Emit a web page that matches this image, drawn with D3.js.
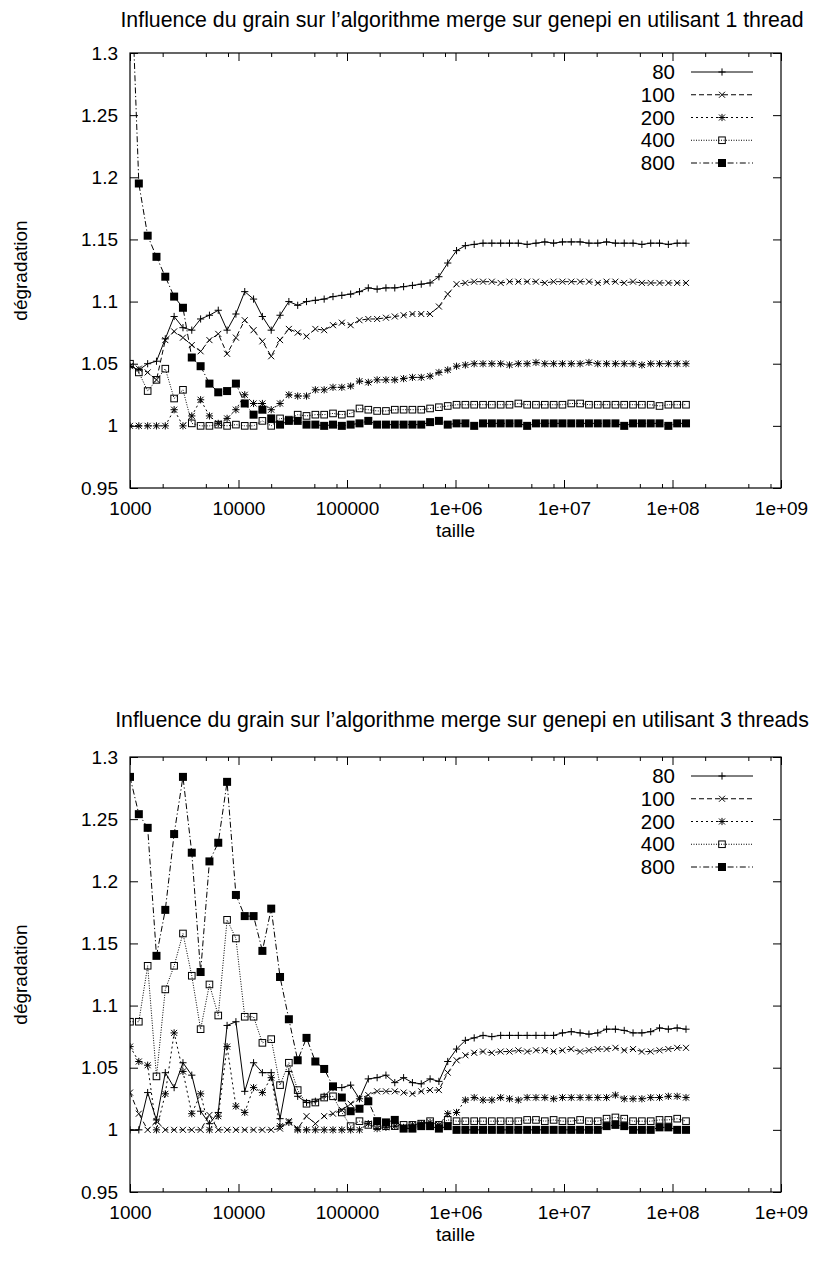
<!DOCTYPE html>
<html><head><meta charset="utf-8">
<script src="https://cdn.jsdelivr.net/npm/d3@7"></script>
<style>
body{margin:0;background:#fff;}
text{font-family:"Liberation Sans",Arial,Helvetica,sans-serif;fill:#000;}
</style>
</head><body>
<svg id="chart" width="829" height="1262"></svg>
<script>
// ---------------- data ----------------
const taille = [1000,1206,1455,1754,2115,2551,3077,3710,4475,5397,
 6508,7849,9466,11415,13767,16603,20023,24147,29121,35120,
 42355,51080,61602,74292,89596,108050,130310,157150,189520,228560,
 275640,332420,400900,483480,583070,703180,848020,1022300,1232900,1486900,
 1793200,2162500,2608000,3145200,3793100,4574400,5516700,6653100,8023600,9676400,
 11669000,14073000,16972000,20468000,24684000,29768000,35900000,43295000,52213000,62968000,
 75939000,91582000,110450000,133200000];

const grains = ["80","100","200","400","800"];

// 1 thread
const deg1_g80 = [1.048,1.045,1.050,1.052,1.070,1.088,1.079,1.077,1.086,1.089,
 1.093,1.077,1.090,1.108,1.102,1.088,1.077,1.089,1.100,1.097,
 1.100,1.101,1.102,1.104,1.105,1.106,1.108,1.111,1.110,1.111,
 1.111,1.112,1.113,1.114,1.115,1.120,1.131,1.141,1.145,1.146,
 1.147,1.147,1.147,1.147,1.147,1.146,1.147,1.148,1.147,1.148,
 1.148,1.148,1.147,1.147,1.148,1.147,1.147,1.147,1.146,1.147,
 1.147,1.146,1.147,1.147];
const deg1_g100 = [1.048,1.046,1.043,1.037,1.069,1.076,1.071,1.065,1.060,1.069,
 1.074,1.058,1.071,1.085,1.077,1.068,1.056,1.069,1.078,1.075,
 1.072,1.078,1.077,1.081,1.083,1.081,1.085,1.086,1.086,1.087,
 1.088,1.089,1.090,1.090,1.090,1.096,1.106,1.114,1.115,1.116,
 1.116,1.116,1.115,1.116,1.116,1.116,1.116,1.115,1.116,1.116,
 1.116,1.116,1.116,1.115,1.116,1.116,1.115,1.116,1.115,1.115,
 1.115,1.115,1.115,1.115];
const deg1_g200 = [1.000,1.000,1.000,1.000,1.000,1.013,1.000,1.008,1.021,1.008,
 1.002,1.006,1.013,1.025,1.018,1.018,1.013,1.018,1.025,1.024,
 1.024,1.029,1.029,1.031,1.031,1.032,1.036,1.035,1.037,1.037,
 1.037,1.038,1.039,1.039,1.040,1.043,1.045,1.048,1.049,1.050,
 1.050,1.050,1.050,1.049,1.050,1.050,1.051,1.050,1.050,1.050,
 1.050,1.050,1.051,1.050,1.050,1.050,1.050,1.050,1.049,1.050,
 1.050,1.050,1.050,1.050];
const deg1_g400 = [1.050,1.043,1.028,1.037,1.046,1.022,1.029,1.002,1.000,1.000,
 1.001,1.000,1.001,1.000,1.000,1.004,1.000,1.006,1.005,1.009,
 1.008,1.009,1.009,1.010,1.009,1.010,1.014,1.013,1.012,1.012,
 1.013,1.013,1.013,1.013,1.014,1.015,1.016,1.017,1.017,1.017,
 1.017,1.017,1.017,1.017,1.018,1.017,1.017,1.017,1.017,1.017,
 1.018,1.018,1.017,1.017,1.017,1.017,1.017,1.017,1.017,1.017,
 1.016,1.017,1.017,1.017];
const deg1_g800 = [1.390,1.195,1.153,1.136,1.120,1.104,1.095,1.055,1.048,1.034,
 1.027,1.028,1.034,1.018,1.009,1.013,1.006,1.001,1.004,1.004,
 1.001,1.001,1.000,1.001,1.000,1.001,1.002,1.004,1.001,1.001,
 1.001,1.001,1.001,1.001,1.003,1.004,1.001,1.002,1.002,1.000,
 1.002,1.002,1.002,1.002,1.002,1.000,1.002,1.002,1.002,1.002,
 1.002,1.002,1.002,1.002,1.002,1.002,1.000,1.002,1.002,1.002,
 1.002,1.000,1.002,1.002];

// 3 threads
const deg3_g80 = [1.000,1.000,1.030,1.008,1.046,1.034,1.054,1.044,1.015,1.005,
 1.014,1.084,1.087,1.031,1.054,1.046,1.046,1.009,1.047,1.027,
 1.022,1.023,1.027,1.034,1.034,1.036,1.025,1.041,1.042,1.044,
 1.038,1.042,1.038,1.037,1.041,1.039,1.055,1.065,1.072,1.074,
 1.076,1.075,1.076,1.076,1.076,1.076,1.076,1.076,1.076,1.078,
 1.079,1.078,1.077,1.078,1.081,1.081,1.080,1.078,1.078,1.079,
 1.082,1.081,1.082,1.081];
const deg3_g100 = [1.030,1.013,1.000,1.007,1.000,1.000,1.000,1.000,1.000,1.012,
 1.000,1.000,1.000,1.000,1.000,1.000,1.000,1.001,1.007,1.001,
 1.011,1.005,1.011,1.013,1.016,1.021,1.025,1.028,1.031,1.031,
 1.031,1.030,1.029,1.031,1.032,1.032,1.046,1.056,1.060,1.062,
 1.063,1.062,1.063,1.063,1.064,1.063,1.064,1.064,1.063,1.064,
 1.065,1.063,1.064,1.065,1.065,1.066,1.064,1.065,1.063,1.063,
 1.064,1.065,1.066,1.066];
const deg3_g200 = [1.067,1.055,1.052,1.000,1.029,1.078,1.047,1.013,1.029,1.000,
 1.011,1.067,1.019,1.014,1.034,1.030,1.042,1.003,1.006,1.000,
 1.000,1.000,1.000,1.000,1.000,1.000,1.000,1.005,1.001,1.002,
 1.003,1.002,1.004,1.005,1.006,1.004,1.013,1.014,1.024,1.026,
 1.024,1.024,1.026,1.025,1.024,1.026,1.026,1.026,1.025,1.026,
 1.026,1.026,1.026,1.026,1.026,1.028,1.025,1.025,1.025,1.026,
 1.026,1.027,1.027,1.026];
const deg3_g400 = [1.087,1.087,1.132,1.043,1.113,1.132,1.158,1.124,1.081,1.117,
 1.092,1.169,1.154,1.091,1.091,1.070,1.073,1.036,1.054,1.032,
 1.021,1.022,1.026,1.027,1.014,1.003,1.007,1.004,1.003,1.003,
 1.003,1.004,1.004,1.005,1.007,1.004,1.008,1.007,1.007,1.007,
 1.007,1.007,1.007,1.007,1.007,1.008,1.008,1.007,1.008,1.007,
 1.007,1.008,1.007,1.007,1.009,1.010,1.009,1.007,1.007,1.007,
 1.008,1.008,1.009,1.007];
const deg3_g800 = [1.284,1.254,1.243,1.140,1.177,1.238,1.284,1.223,1.127,1.216,
 1.231,1.280,1.189,1.172,1.172,1.144,1.178,1.123,1.089,1.056,
 1.074,1.055,1.049,1.035,1.026,1.015,1.017,1.023,1.007,1.006,
 1.008,1.001,1.001,1.003,1.003,1.001,1.003,1.000,1.000,1.000,
 1.000,1.000,1.000,1.000,1.000,1.000,1.000,1.000,1.000,1.000,
 1.000,1.000,1.000,1.000,1.003,1.004,1.003,1.000,1.000,1.000,
 1.002,1.002,1.000,1.000];

const yTicks = [0.95,1,1.05,1.1,1.15,1.2,1.25,1.3];
const yTickLabels = ["0.95","1","1.05","1.1","1.15","1.2","1.25","1.3"];
const xTicks = [1e3,1e4,1e5,1e6,1e7,1e8,1e9];
const xTickLabels = ["1000","10000","100000","1e+06","1e+07","1e+08","1e+09"];
const xMinorTicks = [2e3,5e3,8e3,2e4,5e4,8e4,2e5,5e5,8e5,2e6,5e6,8e6,2e7,5e7,8e7,2e8,5e8,8e8];
const titles = ["Influence du grain sur l\u2019algorithme merge sur genepi en utilisant 1 thread",
                "Influence du grain sur l\u2019algorithme merge sur genepi en utilisant 3 threads"];
const xLabel = "taille";
const yLabel = "d\u00e9gradation";

// ---------------- drawing ----------------
const svg = d3.select("#chart");
const FS = 19, FT = 21.3, FL = 20.5;
const L = 130, R = 781;
const styles = [
  {dash:null, sym:"plus"},
  {dash:"5,3", sym:"cross"},
  {dash:"2,3", sym:"star"},
  {dash:"1,1.5", sym:"osq"},
  {dash:"6,2.5,1.2,2.5", sym:"fsq"}
];
function symPath(sym){
  const a=3.6, b=3;
  if(sym==="plus") return `M${-a},0H${a}M0,${-a}V${a}`;
  if(sym==="cross") return `M${-b},${-b}L${b},${b}M${-b},${b}L${b},${-b}`;
  if(sym==="star") return `M${-a},0H${a}M0,${-a}V${a}M${-b},${-b}L${b},${b}M${-b},${b}L${b},${-b}`;
  return null;
}
function drawMarker(g, sym, cx, cy){
  if(sym==="osq"){
    g.append("rect").attr("x",cx-3.3).attr("y",cy-3.3).attr("width",6.6).attr("height",6.6)
      .attr("fill","none").attr("stroke","#000").attr("stroke-width",1);
  } else if(sym==="fsq"){
    g.append("rect").attr("x",cx-4).attr("y",cy-4).attr("width",8).attr("height",8).attr("fill","#000");
  } else {
    g.append("path").attr("d",symPath(sym)).attr("transform",`translate(${cx},${cy})`)
      .attr("fill","none").attr("stroke","#000").attr("stroke-width",1);
  }
}

function drawPlot(idx, top, titleY, title, series){
  const bottom = top + 435;
  const g = svg.append("g");
  const x = d3.scaleLog().domain([1e3,1e9]).range([L,R]);
  const y = d3.scaleLinear().domain([0.95,1.3]).range([bottom,top]);

  // title
  g.append("text").attr("x",462).attr("y",titleY).attr("text-anchor","middle")
    .attr("font-size",FT).text(title);

  // axes (ticks inward)
  const fmtX = d => xTickLabels[xTicks.indexOf(d)];
  const fmtY = d => yTickLabels[yTicks.indexOf(d)];
  g.append("g").attr("transform",`translate(0,${bottom})`)
    .call(d3.axisBottom(x).tickValues(xTicks).tickSize(-8).tickPadding(14).tickFormat(fmtX));
  g.append("g").attr("transform",`translate(0,${bottom})`)
    .call(d3.axisBottom(x).tickValues(xMinorTicks).tickSize(-4).tickFormat(""));
  g.append("g").attr("transform",`translate(0,${top})`)
    .call(d3.axisTop(x).tickValues(xTicks).tickSize(-8).tickFormat(""));
  g.append("g").attr("transform",`translate(0,${top})`)
    .call(d3.axisTop(x).tickValues(xMinorTicks).tickSize(-4).tickFormat(""));
  g.append("g").attr("transform",`translate(${L},0)`)
    .call(d3.axisLeft(y).tickValues(yTicks).tickSize(-8).tickPadding(12).tickFormat(fmtY));
  g.append("g").attr("transform",`translate(${R},0)`)
    .call(d3.axisRight(y).tickValues(yTicks).tickSize(-8).tickFormat(""));
  g.selectAll(".domain").remove();
  g.selectAll(".tick line").attr("stroke","#000").attr("stroke-width",1);
  g.selectAll(".tick text").attr("font-size",FS).attr("font-family","Liberation Sans, Arial, sans-serif").attr("fill","#000");

  // frame
  g.append("rect").attr("x",L).attr("y",top).attr("width",R-L).attr("height",bottom-top)
    .attr("fill","none").attr("stroke","#000").attr("stroke-width",1.2);

  // labels
  g.append("text").attr("x",(L+R)/2).attr("y",bottom+49).attr("text-anchor","middle")
    .attr("font-size",FS).text(xLabel);
  g.append("text").attr("transform",`translate(27,${(top+bottom)/2}) rotate(-90)`)
    .attr("text-anchor","middle").attr("font-size",FS).text(yLabel);

  // clip
  const cid = "clip"+idx;
  g.append("clipPath").attr("id",cid).append("rect")
    .attr("x",L).attr("y",top).attr("width",R-L).attr("height",bottom-top);
  const plotG = g.append("g").attr("clip-path",`url(#${cid})`);

  const line = d3.line().x(d=>x(d[0])).y(d=>y(d[1]));
  series.forEach((vals,k)=>{
    const st = styles[k];
    const pts = taille.map((t,i)=>[t,vals[i]]);
    const p = plotG.append("path").attr("d",line(pts)).attr("fill","none")
      .attr("stroke","#000").attr("stroke-width",1);
    if(st.dash) p.attr("stroke-dasharray",st.dash);
    const mg = plotG.append("g");
    pts.forEach(d=>drawMarker(mg, st.sym, x(d[0]), y(d[1])));
  });

  // legend
  const ly0 = top + 19, lstep = 22.75;
  grains.forEach((gr,k)=>{
    const st = styles[k];
    const yy = ly0 + k*lstep;
    g.append("text").attr("x",675).attr("y",yy).attr("dy","0.35em").attr("text-anchor","end")
      .attr("font-size",FL).text(gr);
    const ln = g.append("line").attr("x1",691).attr("x2",753).attr("y1",yy).attr("y2",yy)
      .attr("stroke","#000").attr("stroke-width",1);
    if(st.dash) ln.attr("stroke-dasharray",st.dash);
    drawMarker(g, st.sym, 722, yy);
  });
}

drawPlot(1, 53, 27, titles[0], [deg1_g80,deg1_g100,deg1_g200,deg1_g400,deg1_g800]);
drawPlot(2, 757, 727, titles[1], [deg3_g80,deg3_g100,deg3_g200,deg3_g400,deg3_g800]);
</script>
</body></html>
